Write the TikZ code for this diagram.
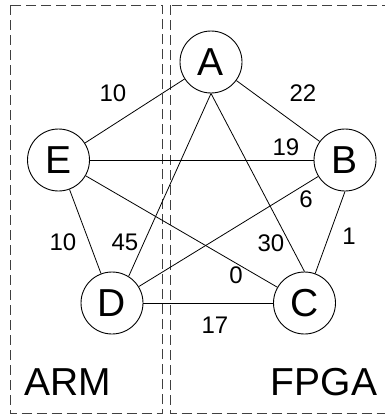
\documentclass[tikz,border=0pt]{standalone}
\usepackage{fontspec}
\setmainfont{Liberation Sans}
\begin{document}
\begin{tikzpicture}[x=1pt,y=-1pt,
  vertex/.style={circle,draw,line width=0.9pt,minimum size=62pt,inner sep=0pt,
                 font=\fontsize{39}{39}\selectfont},
  weight/.style={inner sep=0pt,font=\fontsize{24}{24}\selectfont},
  zone/.style={draw=black!75,dash pattern=on 10pt off 5pt,line width=0.9pt},
  zonename/.style={inner sep=0pt,font=\fontsize{39}{39}\selectfont},
  link/.style={line width=0.8pt}]
\useasboundingbox (0,0) rectangle (385,415);

% partitions
\draw[zone] (10,5) rectangle (162,413.5);
\draw[zone] (170,5) rectangle (390,413.5);
\node[zonename] (arm) at (68,382) {ARM};
\node[zonename] (fpga) at (324,382) {FPGA};

% tasks
\node[vertex] (A) at (211,62) {A};
\node[vertex] (E) at (58.5,160) {E};
\node[vertex] (B) at (345,160) {B};
\node[vertex] (D) at (112,303) {D};
\node[vertex] (C) at (304.5,303) {C};

% communication links
\draw[link] (A) -- (E);
\draw[link] (A) -- (B);
\draw[link] (A.south) -- (D.58);
\draw[link] (A.south) -- (C.north);
\draw[link] (E) -- (B);
\draw[link] (E) -- (D);
\draw[link] (E) -- (C);
\draw[link] (B) -- (D);
\draw[link] (B.south) -- (C);
\draw[link] (D) -- (C);

% link weights
\node[weight] (wAE) at (113,93) {10};
\node[weight] (wAB) at (303,93) {22};
\node[weight] (wEB) at (286,147) {19};
\node[weight] (wBD) at (306,199) {6};
\node[weight] (wED) at (63,242) {10};
\node[weight] (wAD) at (125,242) {45};
\node[weight] (wAC) at (271,243) {30};
\node[weight] (wBC) at (349,236) {1};
\node[weight] (wEC) at (236,275) {0};
\node[weight] (wDC) at (215,325) {17};
\end{tikzpicture}
\end{document}
